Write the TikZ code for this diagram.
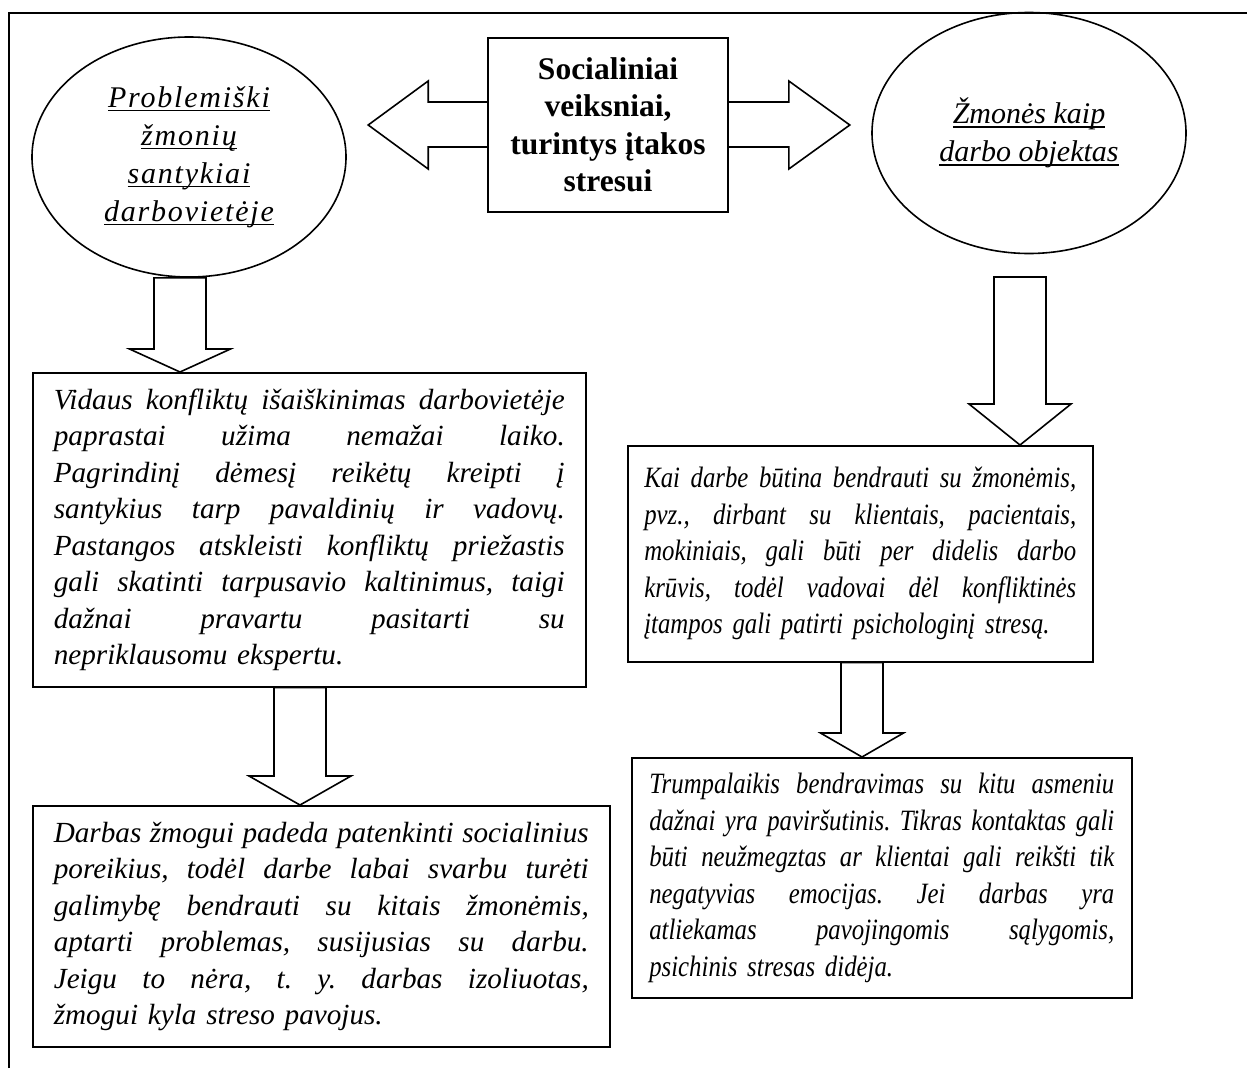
\documentclass[tikz,border=0pt]{standalone}
\usepackage{fontspec}
\setmainfont{Liberation Serif}
\newfontfamily\narrowserif{Liberation Serif}[FakeStretch=0.84]
\usetikzlibrary{shapes.geometric,calc}

% a justified line: spaces stretched to the line width \jlw
\newcommand\jlw{500pt}
\newcommand\jl[1]{\leavevmode\hbox to \jlw{\spaceskip=0.3em plus 10em minus 0.08em\relax #1}}
% underline drawn at a fixed depth, crossing descenders
\newcommand\ulword[1]{\setbox0\hbox{#1}\rlap{\rule[-4pt]{\wd0}{1.5pt}}\box0}
% hollow block arrow pointing down: top point, tip point, half shaft, half head, head length
\newcommand\blockdown[5]{%
  \draw[outline] let \p1=(#1), \p2=(#2) in
    (\x2-#3,\y1) -- (\x2-#3,\y2+#5) -- (\x2-#4,\y2+#5) -- (\x2,\y2)
    -- (\x2+#4,\y2+#5) -- (\x2+#3,\y2+#5) -- (\x2+#3,\y1) -- cycle;
}

\tikzset{
  outline/.style={line width=1.6pt, line join=miter},
  linewidth/.style={text width=#1, execute at begin node={\renewcommand\jlw{#1}}},
  textbox/.style={draw, outline, anchor=north west, align=left, inner ysep=0pt,
    font=\frenchspacing\fontsize{29.2pt}{36.5pt}\selectfont\itshape},
  rtextbox/.style={textbox,
    font=\frenchspacing\narrowserif\fontsize{29.5pt}{36.5pt}\selectfont\itshape},
  oval/.style={draw, outline, ellipse, inner sep=0pt, align=center,
    font=\fontsize{30pt}{38pt}\selectfont\itshape},
  hub/.style={draw, outline, inner sep=0pt, align=center,
    font=\fontsize{31.5pt}{37.5pt}\selectfont\bfseries},
}

\begin{document}
\begin{tikzpicture}[x=1pt,y=-1pt]
\useasboundingbox (0,0) rectangle (1247,1068);

% frame
\draw[outline] (9,1068) -- (9,13) -- (1247,13);

% central box with the two side arrows
\node[hub, minimum width=240pt, minimum height=174pt] (hub) at (608,125)
  {Socialiniai\\veiksniai,\\turintys įtakos\\stresui};
\draw[outline] let \p1=(hub.west) in
  (\x1,\y1+23pt) -- (\x1-59pt,\y1+23pt) -- (\x1-59pt,\y1+44pt) -- (\x1-119pt,\y1)
  -- (\x1-59pt,\y1-44pt) -- (\x1-59pt,\y1-22pt) -- (\x1,\y1-22pt);
\draw[outline] let \p1=(hub.east) in
  (\x1,\y1+23pt) -- (\x1+60pt,\y1+23pt) -- (\x1+60pt,\y1+44pt) -- (\x1+121pt,\y1)
  -- (\x1+60pt,\y1-44pt) -- (\x1+60pt,\y1-22pt) -- (\x1,\y1-22pt);

% the two ellipses
\node[oval, minimum width=314pt, minimum height=240pt,
  font=\fontsize{30pt}{38pt}\selectfont\itshape\addfontfeature{LetterSpace=6}] (lell) at (189,157)
  {\ulword{Problemiški}\\\ulword{žmonių}\\\ulword{santykiai}\\\ulword{darbovietėje}};
\node[oval, minimum width=314pt, minimum height=241pt] (rell) at (1029,133)
  {\ulword{Žmonės kaip}\\\ulword{darbo objektas}};

% left column
\node[textbox, linewidth=511pt, inner xsep=21pt, minimum height=314pt] (lb1) at (32,372)
  {\jl{Vidaus konfliktų išaiškinimas darbovietėje}\\
   \jl{paprastai užima nemažai laiko.}\\
   \jl{Pagrindinį dėmesį reikėtų kreipti į}\\
   \jl{santykius tarp pavaldinių ir vadovų.}\\
   \jl{Pastangos atskleisti konfliktų priežastis}\\
   \jl{gali skatinti tarpusavio kaltinimus, taigi}\\
   \jl{dažnai pravartu pasitarti su}\\
   nepriklausomu ekspertu.};
\node[textbox, linewidth=535pt, inner xsep=21pt, minimum height=241pt] (lb2) at (32,805)
  {\jl{Darbas žmogui padeda patenkinti socialinius}\\
   \jl{poreikius, todėl darbe labai svarbu turėti}\\
   \jl{galimybę bendrauti su kitais žmonėmis,}\\
   \jl{aptarti problemas, susijusias su darbu.}\\
   \jl{Jeigu to nėra, t. y. darbas izoliuotas,}\\
   žmogui kyla streso pavojus.};

% right column
\node[rtextbox, linewidth=432pt, inner xsep=16.5pt, minimum height=216pt] (rb1) at (627,445)
  {\jl{Kai darbe būtina bendrauti su žmonėmis,}\\
   \jl{pvz., dirbant su klientais, pacientais,}\\
   \jl{mokiniais, gali būti per didelis darbo}\\
   \jl{krūvis, todėl vadovai dėl konfliktinės}\\
   įtampos gali patirti psichologinį stresą.};
\node[rtextbox, linewidth=465pt, inner xsep=17.5pt, minimum height=240pt] (rb2) at (631,757)
  {\jl{Trumpalaikis bendravimas su kitu asmeniu}\\
   \jl{dažnai yra paviršutinis. Tikras kontaktas gali}\\
   \jl{būti neužmegztas ar klientai gali reikšti tik}\\
   \jl{negatyvias emocijas. Jei darbas yra}\\
   \jl{atliekamas pavojingomis sąlygomis,}\\
   psichinis stresas didėja.};

% block arrows between the parts
\coordinate (r1top) at (1020,277);
\blockdown{lell.south}{180,0 |- lb1.north}{26pt}{50.5pt}{23pt}
\blockdown{r1top}{r1top |- rb1.north}{26pt}{51pt}{41pt}
\blockdown{lb1.south}{300,0 |- lb2.north}{26pt}{51pt}{29pt}
\blockdown{rb1.south}{862,0 |- rb2.north}{21pt}{41.5pt}{24pt}
\end{tikzpicture}
\end{document}
